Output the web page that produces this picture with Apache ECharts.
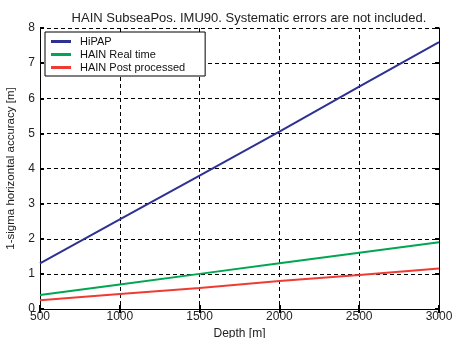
<!DOCTYPE html>
<html><head><meta charset="utf-8">
<script src="https://cdn.jsdelivr.net/npm/echarts@6/dist/echarts.min.js"></script>
<style>html,body{margin:0;padding:0;background:#fff}#c{width:453px;height:338px}</style>
</head><body><div id="c"></div>
<script>
const depths = [500, 1000, 1500, 2000, 2500, 3000];
const hipap = [1.3, 2.55, 3.8, 5.05, 6.33, 7.6];
const hainRealTime = [0.4, 0.7, 1.0, 1.3, 1.6, 1.9];
const hainPost = [0.25, 0.43, 0.6, 0.8, 0.97, 1.15];
const seriesNames = ['HiPAP', 'HAIN Real time', 'HAIN Post processed'];
const colors = ['#2E3192', '#00A651', '#EE3B33'];

const font = 'Liberation Sans, Arial, sans-serif';
const pair = arr => depths.map((d, i) => [d, arr[i]]);
const chart = echarts.init(document.getElementById('c'));
const axisCommon = {
  axisLine: {show: true, lineStyle: {color: '#000', width: 1}},
  axisTick: {show: true, inside: true, length: 4, lineStyle: {color: '#000', width: 2}},
  splitLine: {show: false}
};
chart.setOption({
  animation: false,
  title: {text: 'HAIN SubseaPos. IMU90. Systematic errors are not included.', left: 244, textAlign: 'center', top: 7,
    textStyle: {fontFamily: font, fontSize: 13, fontWeight: 'normal', color: '#222'}},
  grid: {left: 40, right: 14, top: 28, bottom: 29, outerBoundsMode: 'none', containLabel: false},
  legend: {
    orient: 'vertical', left: 45, top: 32, data: seriesNames,
    backgroundColor: '#fff', borderColor: '#000', borderWidth: 1, borderRadius: 0,
    padding: [3, 20, 2, 6], itemGap: 0, itemWidth: 20, itemHeight: 3, icon: 'rect',
    textStyle: {fontFamily: font, fontSize: 11, color: '#111', lineHeight: 13, padding: [0, 0, 0, 4]}
  },
  xAxis: [
    Object.assign({type: 'value', min: 500, max: 3000, interval: 500, position: 'bottom',
      name: 'Depth [m]', nameLocation: 'middle', nameGap: 16,
      nameTextStyle: {fontFamily: font, fontSize: 12, color: '#222'},
      axisLabel: {fontFamily: font, fontSize: 12, color: '#222', margin: 2, formatter: v => String(v)},
      splitLine: {show: true, lineStyle: {color: '#000', type: [4, 3], width: 1}}
    }, {axisLine: axisCommon.axisLine, axisTick: axisCommon.axisTick}),
    Object.assign({type: 'value', min: 500, max: 3000, interval: 500, position: 'top', axisLabel: {show: false}}, axisCommon)
  ],
  yAxis: [
    Object.assign({type: 'value', min: 0, max: 8, interval: 1, position: 'left',
      name: '1-sigma horizontal accuracy [m]', nameLocation: 'middle', nameGap: 23,
      nameTextStyle: {fontFamily: font, fontSize: 11.5, color: '#222'},
      axisLabel: {fontFamily: font, fontSize: 12, color: '#222', margin: 5},
      splitLine: {show: true, lineStyle: {color: '#000', type: [4, 3], width: 1}}
    }, {axisLine: axisCommon.axisLine, axisTick: axisCommon.axisTick}),
    Object.assign({type: 'value', min: 0, max: 8, interval: 1, position: 'right', axisLabel: {show: false}}, axisCommon)
  ],
  series: [hipap, hainRealTime, hainPost].map((arr, i) => ({
    name: seriesNames[i], type: 'line', data: pair(arr), showSymbol: false, symbol: 'none',
    lineStyle: {color: colors[i], width: 2}, itemStyle: {color: colors[i]}, z: 5
  }))
});
</script></body></html>
